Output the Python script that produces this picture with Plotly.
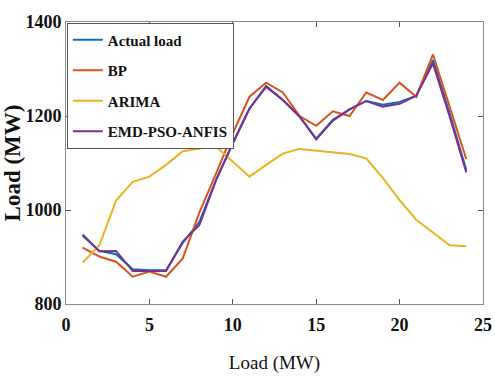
import plotly.graph_objects as go

hours = list(range(1, 25))
actual = [945, 913, 906, 874, 872, 872, 930, 975, 1064, 1142, 1216, 1264, 1234, 1199, 1152, 1192, 1214, 1232, 1224, 1230, 1243, 1319, 1205, 1085]
bp = [920, 901, 890, 858, 869, 858, 897, 995, 1078, 1163, 1241, 1271, 1250, 1200, 1179, 1210, 1200, 1250, 1234, 1271, 1241, 1331, 1220, 1108]
arima = [888, 925, 1020, 1060, 1071, 1096, 1125, 1131, 1135, 1103, 1071, 1096, 1120, 1130, 1126, 1123, 1119, 1110, 1068, 1021, 979, 952, 925, 923]
emd = [948, 912, 913, 870, 870, 870, 933, 968, 1064, 1142, 1216, 1262, 1234, 1199, 1150, 1190, 1214, 1232, 1220, 1226, 1243, 1312, 1199, 1080]

names = ["Actual load", "BP", "ARIMA", "EMD-PSO-ANFIS"]
colors = ["#0072BD", "#D95319", "#EDB120", "#7E2F8E"]
series = [actual, bp, arima, emd]

x_ticks = [0, 5, 10, 15, 20, 25]
y_ticks = [800, 1000, 1200, 1400]

FONT = "Liberation Serif"

fig = go.Figure()
for name, col, vals in zip(names, colors, series):
    fig.add_trace(go.Scatter(x=hours, y=vals, mode="lines", name=name, legendgroup=name,
                             line=dict(color=col, width=2)))

axis_common = dict(showline=True, linecolor="#8a8a8a", linewidth=1, mirror="ticks",
                   ticks="inside", ticklen=5, tickcolor="#555555", showgrid=False,
                   zeroline=False, automargin=False,
                   tickfont=dict(family=FONT, size=18, color="#111111", weight="bold"))

fig.update_xaxes(range=[0, 25], tickvals=x_ticks, ticklabeloverflow="allow", ticklabelstandoff=4,
                 title=dict(text="Load (MW)", font=dict(family=FONT, size=19, color="#111111"), standoff=22),
                 **axis_common)
fig.update_yaxes(range=[800, 1400], tickvals=y_ticks,
                 title=dict(text="<b>Load (MW)</b>", font=dict(family=FONT, size=23, color="#111111"), standoff=6),
                 **axis_common)

fig.update_layout(
    width=495, height=381,
    margin=dict(l=66, r=12, t=22, b=77),
    paper_bgcolor="white", plot_bgcolor="white",
    font=dict(family=FONT, color="#111111"),
    legend=dict(x=0.002, y=0.998, xanchor="left", yanchor="top",
                bgcolor="white", bordercolor="#555555", borderwidth=1,
                font=dict(family=FONT, size=15, color="#111111", weight="bold"),
                itemwidth=30, tracegroupgap=8),
    showlegend=True,
)

fig.write_html("out.html")
